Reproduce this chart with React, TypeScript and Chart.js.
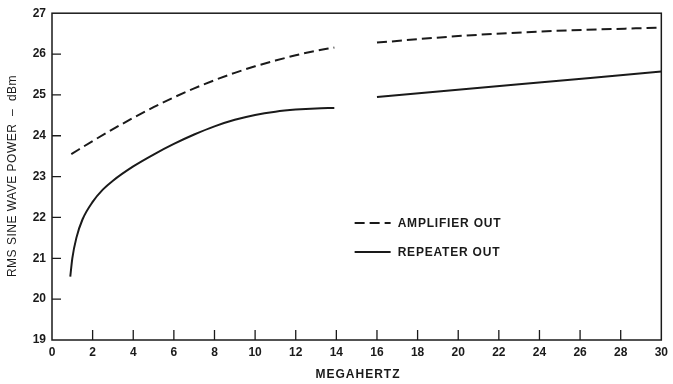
import React, { useEffect, useRef } from "react";
import { Chart, registerables } from "chart.js";

Chart.register(...registerables);

// Frequency axis (MHz) and power axis (dBm) ranges
const xMin = 0;
const xMax = 30;
const xStep = 2;
const yMin = 19;
const yMax = 27;
const yStep = 1;

// Amplifier output, lower band and upper band
const ampFreqLow = [0.95, 2, 3, 4, 5, 6, 7, 8, 9, 10, 11, 12, 13, 13.9];
const ampPowerLow = [23.55, 23.87, 24.16, 24.44, 24.7, 24.94, 25.16, 25.36, 25.54, 25.7, 25.84, 25.97, 26.08, 26.16];
const ampFreqHigh = [16, 20, 24, 30];
const ampPowerHigh = [26.28, 26.44, 26.55, 26.65];

// Repeater output, lower band and upper band
const repFreqLow = [0.9, 1.0, 1.2, 1.5, 2, 2.5, 3, 4, 5, 6, 7, 8, 9, 10, 11, 12, 13, 13.9];
const repPowerLow = [20.55, 21.0, 21.5, 21.95, 22.38, 22.68, 22.9, 23.25, 23.54, 23.8, 24.03, 24.23, 24.39, 24.51, 24.59, 24.64, 24.67, 24.68];
const repFreqHigh = [16, 23, 30];
const repPowerHigh = [24.95, 25.26, 25.57];

const seriesNames = ["AMPLIFIER OUT", "REPEATER OUT"];
const xTitle = "MEGAHERTZ";
const yTitle = "RMS SINE WAVE POWER  \u2013  dBm";

const INK = "#1a1a1a";
const FONT = "'Liberation Sans', Arial, sans-serif";

// Join the two bands of a series with a null point so the line breaks between them
function joinBands(fLow: number[], pLow: number[], fHigh: number[], pHigh: number[]) {
  const pts: { x: number; y: number | null }[] = [];
  fLow.forEach((f, i) => pts.push({ x: f, y: pLow[i] }));
  pts.push({ x: 15, y: null });
  fHigh.forEach((f, i) => pts.push({ x: f, y: pHigh[i] }));
  return pts;
}

const framePlugin = {
  id: "frameAndLegend",
  afterDraw(chart: any) {
    const { ctx, chartArea } = chart;
    const { left, right, top, bottom } = chartArea;
    const xs = chart.scales.x;
    const ys = chart.scales.y;
    ctx.save();
    ctx.strokeStyle = INK;
    ctx.lineWidth = 1.5;
    ctx.strokeRect(left, top, right - left, bottom - top);

    // inward tick marks
    ctx.lineWidth = 1.3;
    ctx.beginPath();
    for (let v = yMin + yStep; v < yMax; v += yStep) {
      const py = ys.getPixelForValue(v);
      ctx.moveTo(left, py);
      ctx.lineTo(left + 9, py);
    }
    for (let v = xMin + xStep; v < xMax; v += xStep) {
      const px = xs.getPixelForValue(v);
      ctx.moveTo(px, bottom);
      ctx.lineTo(px, bottom - 10);
    }
    ctx.stroke();

    // axis titles
    ctx.fillStyle = INK;
    ctx.textAlign = "center";
    ctx.textBaseline = "middle";
    ctx.font = `bold 12px ${FONT}`;
    (ctx as any).letterSpacing = "1px";
    ctx.fillText(xTitle, 358, 375);

    ctx.save();
    ctx.translate(13, 176);
    ctx.rotate(-Math.PI / 2);
    ctx.font = `12px ${FONT}`;
    (ctx as any).letterSpacing = "0.5px";
    ctx.fillText(yTitle, 0, 0);
    ctx.restore();

    // legend
    const lx = xs.getPixelForValue(14.9);
    const ly0 = 223;
    const gap = 29;
    (ctx as any).letterSpacing = "0.8px";
    chart.data.datasets.forEach((ds: any, i: number) => {
      const y = ly0 + i * gap;
      ctx.beginPath();
      ctx.lineWidth = 2;
      ctx.setLineDash(ds.borderDash || []);
      ctx.moveTo(lx, y);
      ctx.lineTo(lx + 36, y);
      ctx.stroke();
      ctx.setLineDash([]);
      ctx.font = `bold 12px ${FONT}`;
      ctx.textAlign = "left";
      ctx.fillText(ds.label, lx + 43, y + 0.5);
    });
    ctx.restore();
  },
};

export default function App() {
  const canvasRef = useRef<HTMLCanvasElement | null>(null);

  useEffect(() => {
    const canvas = canvasRef.current;
    if (!canvas) return;
    const chart = new Chart(canvas, {
      type: "line",
      data: {
        datasets: [
          {
            label: seriesNames[0],
            data: joinBands(ampFreqLow, ampPowerLow, ampFreqHigh, ampPowerHigh),
            borderColor: INK,
            borderWidth: 2,
            borderDash: [10, 5],
            pointRadius: 0,
            fill: false,
            spanGaps: false,
            cubicInterpolationMode: "monotone",
          },
          {
            label: seriesNames[1],
            data: joinBands(repFreqLow, repPowerLow, repFreqHigh, repPowerHigh),
            borderColor: INK,
            borderWidth: 2,
            pointRadius: 0,
            fill: false,
            spanGaps: false,
            cubicInterpolationMode: "monotone",
          },
        ],
      },
      options: {
        animation: false,
        responsive: false,
        maintainAspectRatio: false,
        layout: { padding: { left: 0, right: 9, top: 13, bottom: 0 } },
        plugins: {
          legend: { display: false },
          tooltip: { enabled: false },
        },
        scales: {
          x: {
            type: "linear",
            min: xMin,
            max: xMax,
            grid: { display: false, drawTicks: false },
            border: { display: false },
            ticks: {
              stepSize: xStep,
              padding: 5,
              color: INK,
              font: { family: FONT, size: 12, weight: "bold" },
              maxRotation: 0,
            },
            afterFit(scale: any) {
              scale.height = 44;
            },
          },
          y: {
            type: "linear",
            min: yMin,
            max: yMax,
            grid: { display: false, drawTicks: false },
            border: { display: false },
            ticks: {
              stepSize: yStep,
              padding: 6,
              color: INK,
              font: { family: FONT, size: 12, weight: "bold" },
            },
            afterFit(scale: any) {
              scale.width = 52;
            },
          },
        },
      },
      plugins: [framePlugin],
    });
    return () => chart.destroy();
  }, []);

  return (
    <div style={{ position: "fixed", left: 0, top: 0, width: 673, height: 384, background: "#fff" }}>
      <canvas ref={canvasRef} width={673} height={384} style={{ display: "block" }} />
    </div>
  );
}
